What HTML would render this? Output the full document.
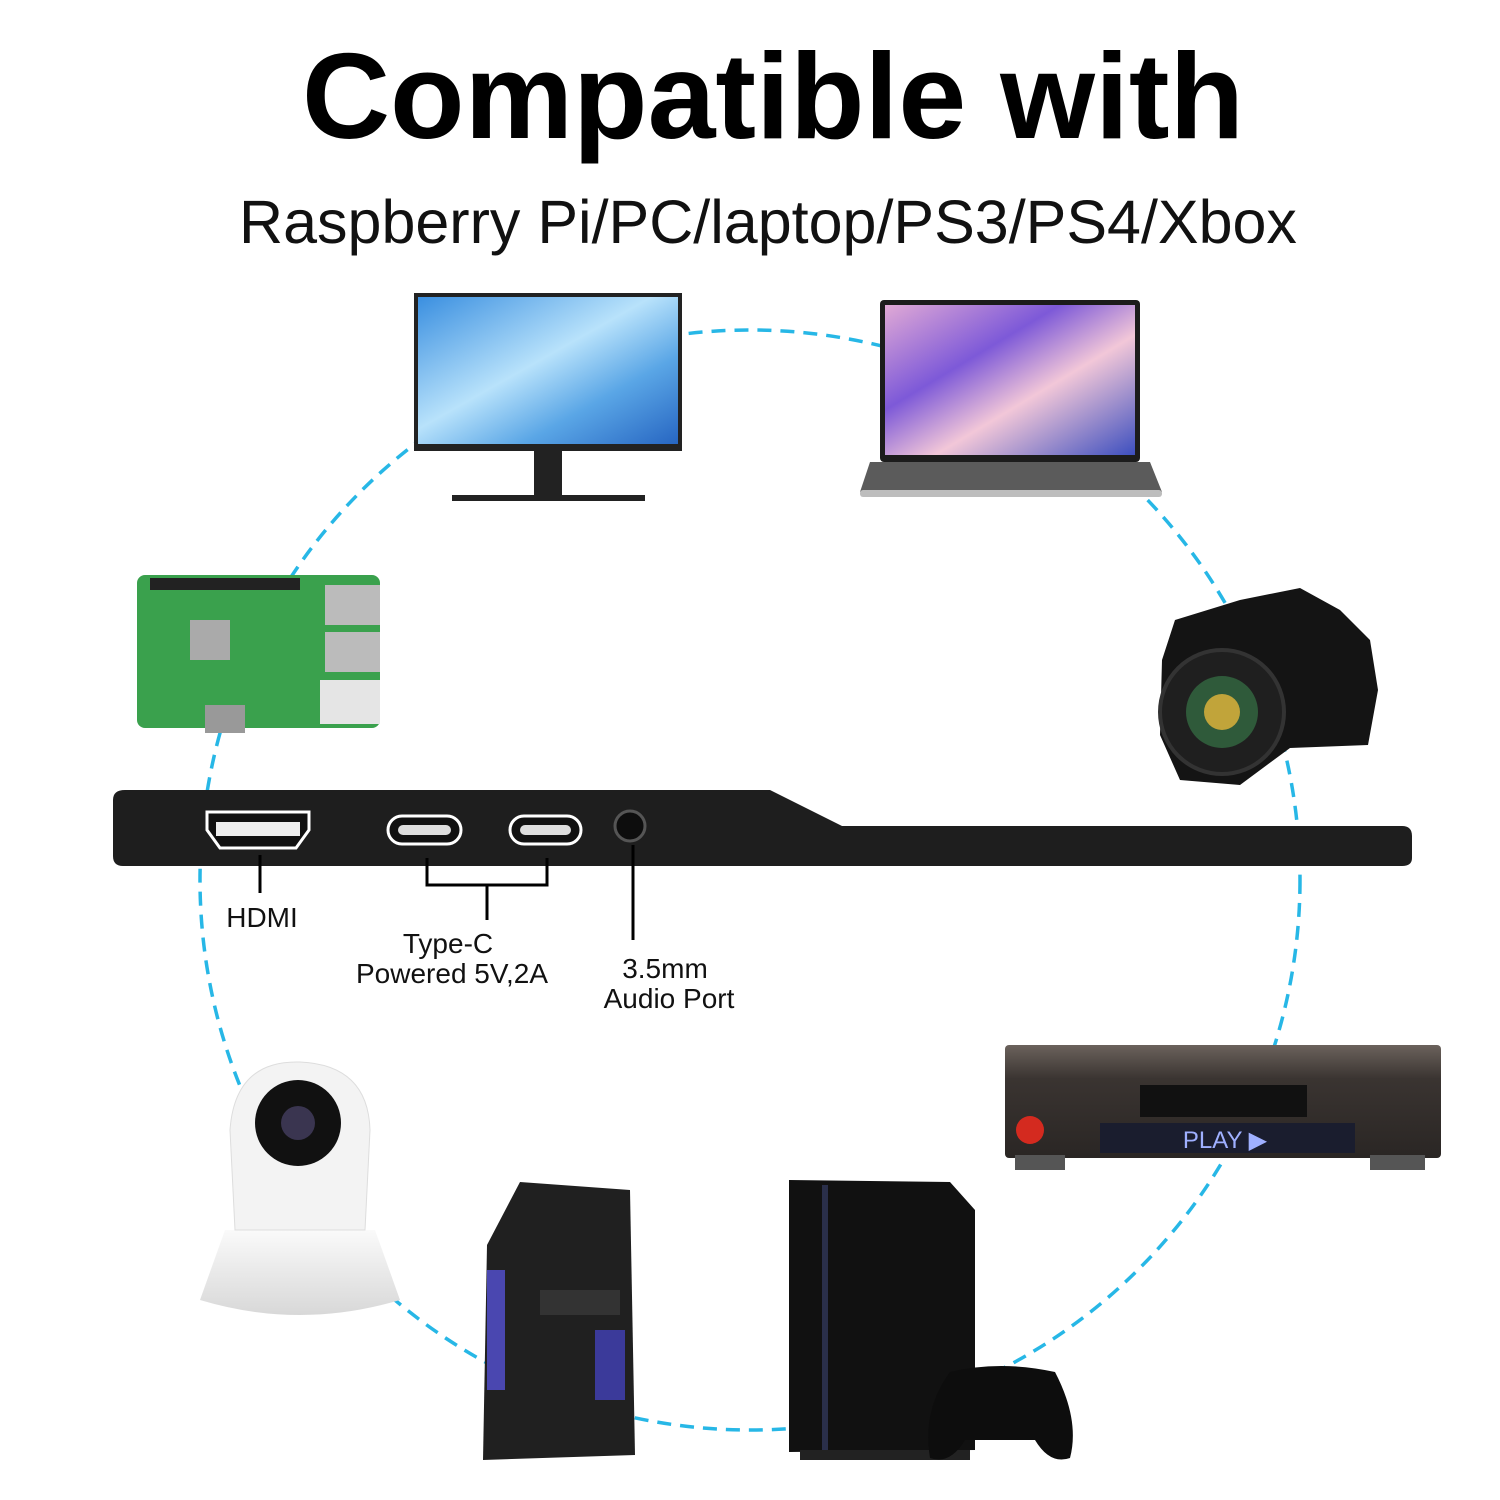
<!DOCTYPE html>
<html><head><meta charset="utf-8"><style>
html,body{margin:0;padding:0;background:#fff;}
svg{display:block}
text{font-family:"Liberation Sans",sans-serif}
</style></head><body>
<svg width="1500" height="1500" viewBox="0 0 1500 1500" xmlns="http://www.w3.org/2000/svg">
<defs>
<linearGradient id="mon" x1="0" y1="0" x2="1" y2="1"><stop offset="0" stop-color="#3a8fe0"/><stop offset="0.45" stop-color="#b8e2fb"/><stop offset="0.7" stop-color="#5aa6e6"/><stop offset="1" stop-color="#2766c2"/></linearGradient>
<linearGradient id="lap" x1="0" y1="0" x2="1" y2="1"><stop offset="0" stop-color="#e0a9d6"/><stop offset="0.35" stop-color="#7d59d8"/><stop offset="0.6" stop-color="#f2c7d8"/><stop offset="1" stop-color="#3d4fbf"/></linearGradient>
<linearGradient id="dvd" x1="0" y1="0" x2="0" y2="1"><stop offset="0" stop-color="#6b625c"/><stop offset="0.3" stop-color="#3a3431"/><stop offset="1" stop-color="#2a2624"/></linearGradient>
<linearGradient id="cam" x1="0" y1="0" x2="0" y2="1"><stop offset="0" stop-color="#fafafa"/><stop offset="1" stop-color="#d8d8d8"/></linearGradient>
</defs>

<text x="773" y="138" text-anchor="middle" font-size="122" font-weight="bold" fill="#000">Compatible with</text>
<text x="768" y="243" text-anchor="middle" font-size="61" fill="#111">Raspberry Pi/PC/laptop/PS3/PS4/Xbox</text>

<circle cx="750" cy="880" r="550" fill="none" stroke="#27b7e6" stroke-width="3.5" stroke-dasharray="14 9"/>

<!-- monitor -->
<rect x="414" y="293" width="268" height="158" fill="#222"/>
<rect x="418" y="297" width="260" height="147" fill="url(#mon)"/>
<rect x="534" y="451" width="28" height="45" fill="#222"/>
<rect x="452" y="495" width="193" height="6" fill="#222"/>

<!-- laptop -->
<rect x="880" y="300" width="260" height="162" rx="4" fill="#1c1c1c"/>
<rect x="885" y="305" width="250" height="150" fill="url(#lap)"/>
<path d="M870 462 L1150 462 L1162 492 L860 492 Z" fill="#5b5b5b"/>
<rect x="860" y="490" width="302" height="7" rx="3" fill="#bdbdbd"/>

<!-- raspberry pi -->
<rect x="137" y="575" width="243" height="153" rx="8" fill="#3aa14d"/>
<rect x="150" y="578" width="150" height="12" fill="#222"/>
<rect x="190" y="620" width="40" height="40" fill="#aaa"/>
<rect x="325" y="585" width="55" height="40" fill="#bbb"/>
<rect x="325" y="632" width="55" height="40" fill="#bbb"/>
<rect x="320" y="680" width="60" height="44" fill="#e5e5e5"/>
<rect x="205" y="705" width="40" height="28" fill="#999"/>

<!-- camera -->
<path d="M1175 620 L1240 600 L1300 588 L1340 610 L1370 640 L1378 690 L1368 745 L1290 748 L1240 785 L1180 780 L1160 735 L1162 660 Z" fill="#141414"/>
<circle cx="1222" cy="712" r="62" fill="#1f1f1f" stroke="#333" stroke-width="4"/>
<circle cx="1222" cy="712" r="36" fill="#2f5a3a"/>
<circle cx="1222" cy="712" r="18" fill="#c1a43a"/>

<!-- monitor bar -->
<path d="M125 790 L770 790 L842 826 L1402 826 Q1412 826 1412 836 L1412 858 Q1412 866 1402 866 L123 866 Q113 866 113 856 L113 800 Q113 790 125 790 Z" fill="#1e1e1e"/>
<path d="M207 812 L309 812 L309 830 L296 848 L220 848 L207 830 Z" fill="#111" stroke="#fff" stroke-width="3"/>
<rect x="216" y="822" width="84" height="14" fill="#eee"/>
<rect x="388" y="816" width="73" height="28" rx="14" fill="#111" stroke="#fff" stroke-width="3"/>
<rect x="398" y="825" width="53" height="10" rx="5" fill="#ddd"/>
<rect x="510" y="816" width="71" height="28" rx="14" fill="#111" stroke="#fff" stroke-width="3"/>
<rect x="520" y="825" width="51" height="10" rx="5" fill="#ddd"/>
<circle cx="630" cy="826" r="15" fill="#0d0d0d" stroke="#555" stroke-width="3"/>

<!-- callouts -->
<g stroke="#000" stroke-width="3" fill="none">
<line x1="260" y1="855" x2="260" y2="893"/>
<path d="M427 858 V885 H547 V858"/>
<line x1="487" y1="885" x2="487" y2="920"/>
<line x1="633" y1="845" x2="633" y2="940"/>
</g>
<g font-size="28" fill="#111" text-anchor="middle">
<text x="262" y="927">HDMI</text>
<text x="448" y="953">Type-C</text>
<text x="452" y="983">Powered 5V,2A</text>
<text x="665" y="978">3.5mm</text>
<text x="669" y="1008">Audio Port</text>
</g>

<!-- DVD player -->
<rect x="1005" y="1045" width="436" height="113" rx="4" fill="url(#dvd)"/>
<rect x="1140" y="1085" width="167" height="32" fill="#111"/>
<rect x="1100" y="1123" width="255" height="30" fill="#1a1d2e"/>
<text x="1225" y="1148" text-anchor="middle" font-size="24" fill="#9fb0ff">PLAY ▶</text>
<circle cx="1030" cy="1130" r="14" fill="#d42a1f"/>
<rect x="1015" y="1155" width="50" height="15" fill="#555"/>
<rect x="1370" y="1155" width="55" height="15" fill="#555"/>

<!-- IP camera -->
<path d="M225 1230 L375 1230 L400 1300 Q300 1330 200 1300 Z" fill="url(#cam)"/>
<path d="M230 1130 Q235 1060 300 1062 Q368 1065 370 1130 L365 1230 L235 1230 Z" fill="#f3f3f3" stroke="#ddd"/>
<circle cx="298" cy="1123" r="43" fill="#111"/>
<circle cx="298" cy="1123" r="17" fill="#3a3550"/>

<!-- PC tower -->
<path d="M520 1182 L630 1190 L635 1455 L483 1460 L487 1245 Z" fill="#202020"/>
<rect x="540" y="1290" width="80" height="25" fill="#333"/>
<rect x="595" y="1330" width="30" height="70" fill="#3b3a9a"/>
<rect x="487" y="1270" width="18" height="120" fill="#4a47b0"/>

<!-- PS4 -->
<path d="M789 1180 L950 1182 L975 1210 L975 1450 L789 1452 Z" fill="#111"/>
<rect x="822" y="1185" width="6" height="265" fill="#2a2f4a"/>
<rect x="800" y="1450" width="170" height="10" fill="#222"/>
<path d="M950 1372 Q1000 1360 1055 1372 Q1080 1420 1070 1458 Q1050 1465 1035 1440 L965 1440 Q950 1465 930 1458 Q922 1410 950 1372 Z" fill="#0d0d0d"/>
</svg>
</body></html>
